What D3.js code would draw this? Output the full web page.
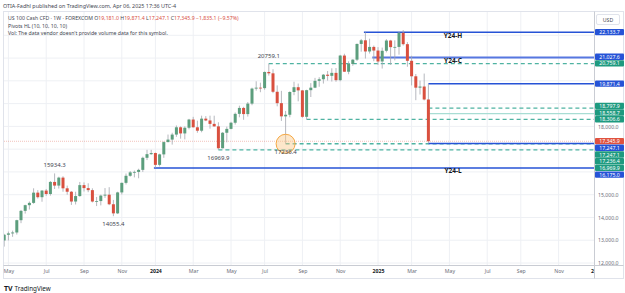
<!DOCTYPE html>
<html>
<head>
<meta charset="utf-8">
<script src="https://cdn.jsdelivr.net/npm/d3@7"></script>
<style>
  body { margin: 0; background: #fff; }
  svg { display: block; font-family: "Noto Sans", Roboto, sans-serif; }
</style>
</head>
<body>
<div id="chart"></div>
<script>
// weekly bars, first one is the week of Apr 24 2023
var firstWeek = new Date(2023, 3, 24);

var opens = [12990, 13240, 13300, 13340, 13880, 14290, 14540, 14640, 15090, 14890,
  15180, 15030, 15560, 15400, 15750, 15280, 15130, 14700, 14940, 15420,
  15290, 15200, 14700, 14720, 14960, 15000, 14580, 14180, 15100, 15520,
  15830, 15980, 16000, 16090, 16620, 16780, 16830, 16310, 16770, 17310,
  17420, 17640, 17960, 17690, 17940, 18300, 17960, 17810, 18340, 18260,
  18110, 18000, 17040, 17720, 17890, 18160, 18550, 18810, 18540, 19000,
  19660, 19700, 19680, 20390, 20330, 19520, 19020, 18440, 18510, 19510,
  19720, 19580, 18420, 19590, 19700, 20000, 20070, 20270, 20220, 20350,
  20030, 21110, 20400, 20740, 20930, 21620, 21780, 21290, 21490, 21330,
  20850, 21320, 21770, 21480, 21490, 22110, 21610, 20880, 20200, 19700,
  19750, 19181.0];
var highs = [13280, 13380, 13420, 13900, 14330, 14560, 14700, 15280, 15200, 15200,
  15250, 15600, 15934.3, 15790, 15810, 15400, 15160, 15130, 15560, 15540,
  15500, 15280, 14900, 15000, 15290, 15330, 14770, 15130, 15530, 15930,
  16040, 16060, 16140, 16670, 16970, 16970, 16850, 16800, 17340, 17640,
  17720, 18040, 18000, 18000, 18330, 18420, 18250, 18470, 18450, 18470,
  18470, 18180, 17750, 17990, 18200, 18610, 18910, 18860, 19070, 19700,
  19980, 19920, 20410, 20759.1, 20510, 19800, 19560, 18680, 19540, 19960,
  19880, 19600, 19610, 19900, 20130, 20160, 20300, 20430, 20550, 20560,
  21140, 21190, 20860, 20950, 21640, 21840, 22133.7, 21850, 21550, 21480,
  21460, 21830, 21800, 21780, 22150, 22230, 21700, 21100, 20300, 20010,
  20320, 19871.4];
var lows = [12720, 12990, 13150, 13250, 13750, 14170, 14350, 14600, 14830, 14690,
  14950, 14960, 15250, 15270, 15130, 15000, 14550, 14570, 14910, 15140,
  15110, 14660, 14500, 14530, 14860, 14540, 14055.4, 14150, 15010, 15450,
  15790, 15760, 15720, 16000, 16520, 16750, 16175.0, 16240, 16620, 17300,
  17200, 17540, 17460, 17430, 17870, 17950, 17720, 17740, 18230, 17900,
  17990, 16969.9, 17030, 17300, 17870, 18080, 18400, 18290, 18430, 18930,
  19570, 19500, 19610, 20230, 19460, 18880, 18240, 17236.4, 18400, 19370,
  19100, 18380, 18306.6, 19290, 19680, 19740, 19880, 20010, 19970, 19960,
  19980, 20400, 20290, 20660, 20870, 21280, 20980, 21200, 20860, 20700,
  20540, 21250, 20700, 20900, 21150, 21550, 20620, 19800, 19150, 19400,
  19140, 17247.1];
var closes = [13240, 13300, 13340, 13880, 14290, 14540, 14640, 15090, 14890, 15180,
  15030, 15560, 15400, 15750, 15280, 15130, 14700, 14940, 15420, 15290,
  15200, 14700, 14720, 14960, 15000, 14580, 14180, 15100, 15520, 15830,
  15980, 16000, 16090, 16620, 16780, 16830, 16310, 16770, 17310, 17420,
  17640, 17960, 17690, 17940, 18300, 17960, 17810, 18340, 18260, 18110,
  18000, 17040, 17720, 17890, 18160, 18550, 18810, 18540, 19000, 19660,
  19700, 19680, 20390, 20330, 19520, 19020, 18440, 18510, 19510, 19720,
  19580, 18420, 19590, 19700, 20000, 20070, 20270, 20220, 20350, 20030,
  21110, 20400, 20740, 20930, 21620, 21780, 21290, 21490, 21330, 20850,
  21320, 21770, 21480, 21490, 22110, 21610, 20880, 20200, 19700, 19750,
  19181.0, 17345.9];

// yearly levels (2024 high / close / low)
var yearNames = ["Y24-H", "Y24-C", "Y24-L"];
var yearValues = [22133.7, 21027.6, 16175.0];
var yearFrom = [new Date(2024, 11, 16), new Date(2024, 11, 30), new Date(2024, 0, 1)];

// pivots HL (10,10,10,10)
var pivotValues = [15934.3, 14055.4, 16969.9, 20759.1, 17236.4, 18306.6];
var pivotWeeks = [new Date(2023, 6, 17), new Date(2023, 9, 23), new Date(2024, 3, 15),
  new Date(2024, 6, 8), new Date(2024, 7, 5), new Date(2024, 8, 9)];
var pivotKind = ["H", "L", "L", "H", "L", "L"];
var pivotOpen = [false, false, true, true, true, true];
var pivotLabel = [true, true, true, true, true, false];
// levels that start on the last bar
var lastBarLevels = [19871.4, 18797.9, 18558.7, 17247.1];
var lastBarKind = ["blue", "dash", "light", "blue"];

var priceTicks = d3.range(12000, 22001, 1000);
var monthNames = ["Jan", "Feb", "Mar", "Apr", "May", "Jun", "Jul", "Aug", "Sep", "Oct", "Nov", "Dec"];

var W = 625, H = 293;
var plot = {left: 4, right: 594, top: 12, bottom: 265};
var barStep = 4.2;

var weeks = opens.map((d, i) => d3.timeDay.offset(firstWeek, 7 * i));
var n = weeks.length;

var x = d3.scaleTime()
  .domain([weeks[0], weeks[n - 1]])
  .range([4.2, 4.2 + (n - 1) * barStep]);
var y = d3.scaleLinear().domain([12000, 22000]).range([263, 35.3]);

var upColor = "#5c9e7d", downColor = "#d9503f";
var teal = "#4fb3a2", blue = "#2653d6";

var svg = d3.select("#chart").append("svg").attr("width", W).attr("height", H);

// tick dates: first weekly bar of every odd month
var tickDates = [];
for (var m = new Date(2023, 4, 1); m <= new Date(2026, 0, 1); m = d3.timeMonth.offset(m, 2)) {
  tickDates.push(d3.timeMonday.ceil(m));
}

// grid
var grid = svg.append("g");
grid.selectAll(".hg").data(priceTicks).enter().append("line")
  .attr("x1", plot.left).attr("x2", plot.right)
  .attr("y1", d => y(d)).attr("y2", d => y(d))
  .attr("stroke", "#eef0f4").attr("stroke-width", 1);
grid.selectAll(".vg").data(tickDates.filter(d => x(d) < plot.right)).enter().append("line")
  .attr("x1", d => x(d)).attr("x2", d => x(d))
  .attr("y1", plot.top).attr("y2", plot.bottom)
  .attr("stroke", "#eef0f4").attr("stroke-width", 1);

// clip
svg.append("clipPath").attr("id", "clip").append("rect")
  .attr("x", plot.left).attr("y", plot.top)
  .attr("width", plot.right - plot.left).attr("height", plot.bottom - plot.top);
var chartGroup = svg.append("g").attr("clip-path", "url(#clip)");

// current price line
chartGroup.append("line")
  .attr("x1", plot.left).attr("x2", plot.right)
  .attr("y1", y(closes[n - 1])).attr("y2", y(closes[n - 1]))
  .attr("stroke", downColor).attr("stroke-opacity", 0.35)
  .attr("stroke-dasharray", "1,1");

// pivot lines still open
pivotValues.forEach(function(v, i) {
  if (!pivotOpen[i]) return;
  chartGroup.append("line")
    .attr("x1", x(pivotWeeks[i])).attr("x2", plot.right)
    .attr("y1", y(v)).attr("y2", y(v))
    .attr("stroke", teal).attr("stroke-width", 1.3)
    .attr("stroke-dasharray", "4,3");
});

// year lines
yearValues.forEach(function(v, i) {
  chartGroup.append("line")
    .attr("x1", x(yearFrom[i]) - 1.5).attr("x2", plot.right)
    .attr("y1", y(v)).attr("y2", y(v))
    .attr("stroke", i == 1 ? "#5677e0" : blue)
    .attr("stroke-width", i == 1 ? 2 : 1.5);
  chartGroup.append("text")
    .attr("x", 453).attr("y", y(v) + 5.5)
    .attr("text-anchor", "middle")
    .attr("font-size", 6.5).attr("font-weight", "bold")
    .attr("fill", "#131722")
    .text(yearNames[i]);
});

// levels from the last bar
lastBarLevels.forEach(function(v, i) {
  var k = lastBarKind[i];
  chartGroup.append("line")
    .attr("x1", x(weeks[n - 1])).attr("x2", plot.right)
    .attr("y1", y(v)).attr("y2", y(v))
    .attr("stroke", k == "blue" ? blue : (k == "dash" ? teal : "#a8ddd4"))
    .attr("stroke-width", k == "blue" ? 1.3 : 1.2)
    .attr("stroke-dasharray", k == "dash" ? "4,3" : null);
});

// candles
var bars = chartGroup.selectAll(".bar").data(weeks).enter().append("g");
bars.append("line")
  .attr("x1", d => x(d)).attr("x2", d => x(d))
  .attr("y1", (d, i) => y(highs[i])).attr("y2", (d, i) => y(lows[i]))
  .attr("stroke", "#a3a6ad").attr("stroke-width", 0.8);
bars.append("rect")
  .attr("x", d => x(d) - 1.5).attr("width", 3)
  .attr("y", (d, i) => y(Math.max(opens[i], closes[i])))
  .attr("height", (d, i) => Math.max(0.8, Math.abs(y(opens[i]) - y(closes[i]))))
  .attr("fill", (d, i) => closes[i] >= opens[i] ? upColor : downColor);

// orange marker on the Aug 2024 low
chartGroup.append("circle")
  .attr("cx", x(pivotWeeks[4])).attr("cy", y(pivotValues[4]))
  .attr("r", 9.5)
  .attr("fill", "#fbc98a").attr("fill-opacity", 0.45)
  .attr("stroke", "#f5a742").attr("stroke-width", 1);

// pivot labels
pivotValues.forEach(function(v, i) {
  if (!pivotLabel[i]) return;
  chartGroup.append("text")
    .attr("x", x(pivotWeeks[i]))
    .attr("y", pivotKind[i] == "H" ? y(v) - 6 : y(v) + 10)
    .attr("text-anchor", "middle")
    .attr("font-size", 6).attr("fill", "#434651")
    .text(v.toFixed(1));
});

// frame
svg.append("rect")
  .attr("x", 3.5).attr("y", 11.5).attr("width", 620).attr("height", 267)
  .attr("fill", "none").attr("stroke", "#e0e3eb");
svg.append("line").attr("x1", plot.right + 0.5).attr("x2", plot.right + 0.5)
  .attr("y1", 11.5).attr("y2", 278.5).attr("stroke", "#c9ccd3");
svg.append("line").attr("x1", 3.5).attr("x2", 623.5)
  .attr("y1", plot.bottom + 0.5).attr("y2", plot.bottom + 0.5).attr("stroke", "#c9ccd3");

// time axis, labels past the price scale are cut
svg.append("clipPath").attr("id", "clipAxis").append("rect")
  .attr("x", 0).attr("y", 0).attr("width", plot.right).attr("height", 14);
var xAxis = svg.append("g")
  .attr("transform", `translate(0, ${plot.bottom})`)
  .attr("clip-path", "url(#clipAxis)")
  .call(d3.axisBottom(x).tickValues(tickDates).tickSize(0).tickPadding(4)
    .tickFormat(d => d.getMonth() == 0 ? d.getFullYear() : monthNames[d.getMonth()]));
xAxis.select(".domain").remove();
xAxis.selectAll("text")
  .attr("font-size", 5.2).attr("font-family", "Noto Sans, sans-serif")
  .attr("fill", d => d.getMonth() == 0 ? "#131722" : "#6a6d78")
  .attr("font-weight", d => d.getMonth() == 0 ? "bold" : null);

// coloured price labels on the scale
var tags = [];
yearValues.forEach(v => tags.push({v: v, c: blue}));
pivotValues.forEach((v, i) => { if (pivotOpen[i]) tags.push({v: v, c: "#1e9a7f"}); });
lastBarLevels.forEach((v, i) => tags.push({v: v, c: lastBarKind[i] == "blue" ? blue : "#1e9a7f"}));
tags.push({v: lows[n - 1], c: "#1e9a7f"});
tags.push({v: closes[n - 1], c: "#e0523f", fixed: true});
tags.sort((a, b) => b.v - a.v || (a.c == blue ? -1 : 1));
var tagH = 6.7;

// stack overlapping tags downwards, then lift clusters without the price tag
var clusters = [];
tags.forEach(function(t, i) {
  t.y0 = y(t.v);
  var prev = tags[i - 1];
  if (prev && t.y0 < prev.y + tagH) {
    t.y = prev.y + tagH;
    clusters[clusters.length - 1].push(t);
  } else {
    t.y = t.y0;
    clusters.push([t]);
  }
});
clusters.forEach(function(c) {
  if (c.some(t => t.fixed)) return;
  var last = c[c.length - 1];
  var shift = last.y0 - last.y;
  c.forEach(t => t.y += shift);
});

// price axis, tick labels hidden where a tag sits
var yAxis = svg.append("g")
  .attr("transform", `translate(${plot.right}, 0)`)
  .call(d3.axisRight(y).tickValues(priceTicks).tickSize(0).tickPadding(4)
    .tickFormat(d3.format(",.1f")));
yAxis.select(".domain").remove();
yAxis.selectAll("text").attr("font-size", 5.2).attr("fill", "#6a6d78")
  .attr("font-family", "Noto Sans, sans-serif")
  .attr("display", d => tags.some(t => Math.abs(t.y - y(d)) < 6.5) ? "none" : null);

// USD box
svg.append("rect").attr("x", 596.5).attr("y", 14.5).attr("width", 23).attr("height", 10)
  .attr("rx", 1.5).attr("fill", "#fff").attr("stroke", "#e0e3eb");
svg.append("text").attr("x", 608).attr("y", 21.6).attr("text-anchor", "middle")
  .attr("font-size", 5.2).attr("fill", "#434651").text("USD");

var tagG = svg.append("g");
tags.forEach(function(t) {
  tagG.append("rect").attr("x", 595).attr("y", t.y - tagH / 2)
    .attr("width", 29).attr("height", tagH - 0.3).attr("rx", 1)
    .attr("fill", t.c);
  tagG.append("text").attr("x", 609.5).attr("y", t.y + 1.9)
    .attr("text-anchor", "middle").attr("font-size", 5.2)
    .attr("fill", "#fff").text(d3.format(",.1f")(t.v));
});

// header
svg.append("text").attr("x", 3).attr("y", 8).attr("font-size", 5.4)
  .attr("fill", "#434651")
  .text("OTIA-Fadhl published on TradingView.com, Apr 06, 2025 17:36 UTC-4");

var change = closes[n - 1] - closes[n - 2];
var fmt = d3.format(",.1f");
var legend = svg.append("text").attr("x", 8).attr("y", 20.3).attr("font-size", 5.2)
  .attr("fill", "#434651");
legend.append("tspan").text("US 100 Cash CFD · 1W · FOREXCOM  O");
legend.append("tspan").attr("fill", downColor).text(fmt(opens[n - 1]));
legend.append("tspan").text("  H");
legend.append("tspan").attr("fill", downColor).text(fmt(highs[n - 1]));
legend.append("tspan").text("  L");
legend.append("tspan").attr("fill", downColor).text(fmt(lows[n - 1]));
legend.append("tspan").text("  C");
legend.append("tspan").attr("fill", downColor)
  .text(fmt(closes[n - 1]) + "  " + fmt(change).replace("-", "−") +
    " (" + d3.format(".2f")(change / closes[n - 2] * 100).replace("-", "−") + "%)");
svg.append("text").attr("x", 8).attr("y", 27.7).attr("font-size", 5.2)
  .attr("fill", "#434651").text("Pivots HL (10, 10, 10, 10)");
svg.append("text").attr("x", 8).attr("y", 35.2).attr("font-size", 5.2)
  .attr("fill", "#434651").text("Vol: The data vendor doesn't provide volume data for this symbol.");

// footer logo
var logo = svg.append("g").attr("transform", "translate(4, 285)");
logo.append("text").attr("x", 0).attr("y", 5.5).attr("font-size", 7)
  .attr("font-weight", "bold").attr("fill", "#131722").text("TV");
logo.append("text").attr("x", 10.5).attr("y", 5.5).attr("font-size", 6.3)
  .attr("fill", "#131722").text("TradingView");
</script>
</body>
</html>
